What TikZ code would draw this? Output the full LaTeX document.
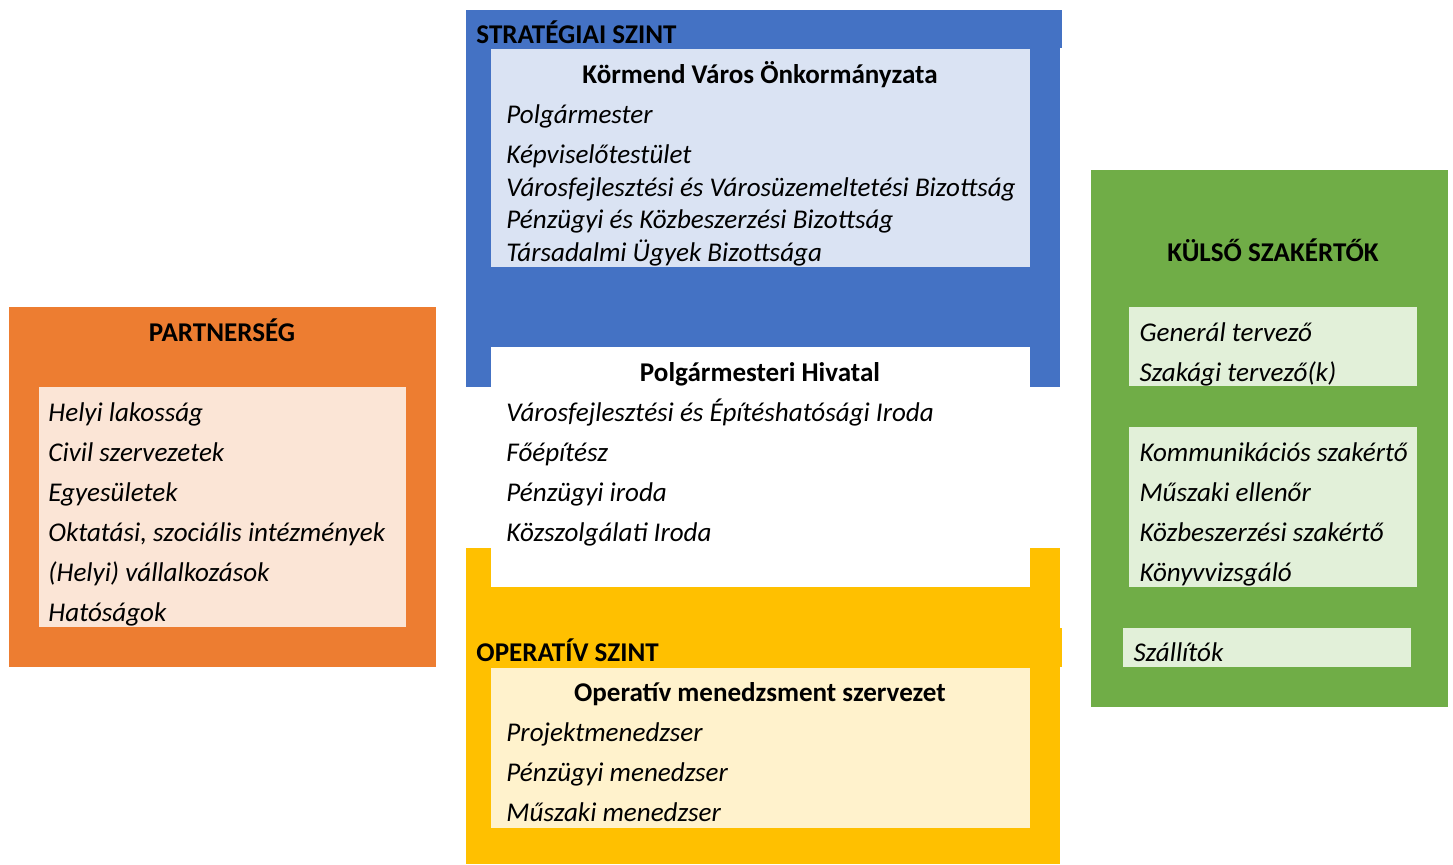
\documentclass[tikz,border=0pt]{standalone}
\usepackage{fontspec}
\setmainfont{Carlito}
\usetikzlibrary{positioning}
\definecolor{stratblue}{HTML}{4472C4}
\definecolor{stratpale}{HTML}{DAE3F3}
\definecolor{partorange}{HTML}{ED7D31}
\definecolor{partpale}{HTML}{FBE5D6}
\definecolor{opyellow}{HTML}{FFC000}
\definecolor{oppale}{HTML}{FFF2CC}
\definecolor{extgreen}{HTML}{70AD47}
\definecolor{extpale}{HTML}{E2F0D9}
\tikzset{
x=0.4065pt, y=-0.4065pt, % one unit is one pixel of the layout
head/.style={font=\fontsize{11}{13}\selectfont\bfseries, inner sep=0pt, anchor=base}, % centred bold headings
band/.style={font=\fontsize{11}{13}\selectfont\bfseries, inner sep=0pt, anchor=base west}, % level titles
item/.style={font=\fontsize{11}{13}\selectfont\itshape, inner sep=0pt, anchor=base west}, % italic entries
}

\begin{document}
\begin{tikzpicture}
  \useasboundingbox (0,0) rectangle (1453,864);

  % Boxes
  \fill[stratblue] (466,10) rectangle (1060,387);
  \fill[stratblue] (466,10) rectangle (1062,48);
  \fill[stratpale] (491,49) rectangle (1030,267);
  \fill[opyellow] (466,548) rectangle (1060,864);
  \fill[opyellow] (466,628) rectangle (1062,667);
  \fill[white] (491,347) rectangle (1030,587);
  \fill[oppale] (491,668) rectangle (1030,828);
  \fill[partorange] (9,307) rectangle (436,667);
  \fill[partpale] (39,387) rectangle (406,627);
  \fill[extgreen] (1091,170) rectangle (1448,707);
  \fill[extpale] (1129,307) rectangle (1417,386);
  \fill[extpale] (1129,427) rectangle (1417,587);
  \fill[extpale] (1123,628) rectangle (1411,667);

  % Strategic level
  \node[band] (strat) at (476,43) {STRATÉGIAI SZINT};
  \node[head] (kormend) at (760,83) {Körmend Város Önkormányzata};
  \node[item] (polgarmester) at (506,123) {Polgármester};
  \node[item] (kepviselo) at (506,163) {Képviselőtestület};
  \node[item] (vfbiz) at (506,196) {Városfejlesztési és Városüzemeltetési Bizottság};
  \node[item] (penzbiz) at (506,228) {Pénzügyi és Közbeszerzési Bizottság};
  \node[item] (tarsbiz) at (506,261) {Társadalmi Ügyek Bizottsága};

  % Mayor's office
  \node[head] (hivatal) at (760,381) {Polgármesteri Hivatal};
  \node[item] (vfiroda) at (506,421) {Városfejlesztési és Építéshatósági Iroda};
  \node[item] (foepitesz) at (506,461) {Főépítész};
  \node[item] (penziroda) at (506,501) {Pénzügyi iroda};
  \node[item] (kozszolg) at (506,541) {Közszolgálati Iroda};

  % Operative level
  \node[band] (oper) at (476,661) {OPERATÍV SZINT};
  \node[head] (menedzsment) at (760,701) {Operatív menedzsment szervezet};
  \node[item] (projekt) at (506,741) {Projektmenedzser};
  \node[item] (penzmen) at (506,781) {Pénzügyi menedzser};
  \node[item] (muszmen) at (506,821) {Műszaki menedzser};

  % Partnership
  \node[head] (partner) at (222,341) {PARTNERSÉG};
  \foreach \t [count=\i] in {Helyi lakosság, Civil szervezetek, Egyesületek,
      {Oktatási, szociális intézmények}, (Helyi) vállalkozások, Hatóságok}
    \node[item] (part\i) at (48,381+40*\i) {\t};

  % External experts
  \node[head] (kulso) at (1273,261) {KÜLSŐ SZAKÉRTŐK};
  \node[item] (general) at (1139,341) {Generál tervező};
  \node[item] (szakagi) at (1139,381) {Szakági tervező(k)};
  \node[item] (kommun) at (1139,461) {Kommunikációs szakértő};
  \node[item] (ellenor) at (1139,501) {Műszaki ellenőr};
  \node[item] (kozbesz) at (1139,541) {Közbeszerzési szakértő};
  \node[item] (konyv) at (1139,581) {Könyvvizsgáló};
  \node[item] (szallito) at (1133,661) {Szállítók};
\end{tikzpicture}
\end{document}
